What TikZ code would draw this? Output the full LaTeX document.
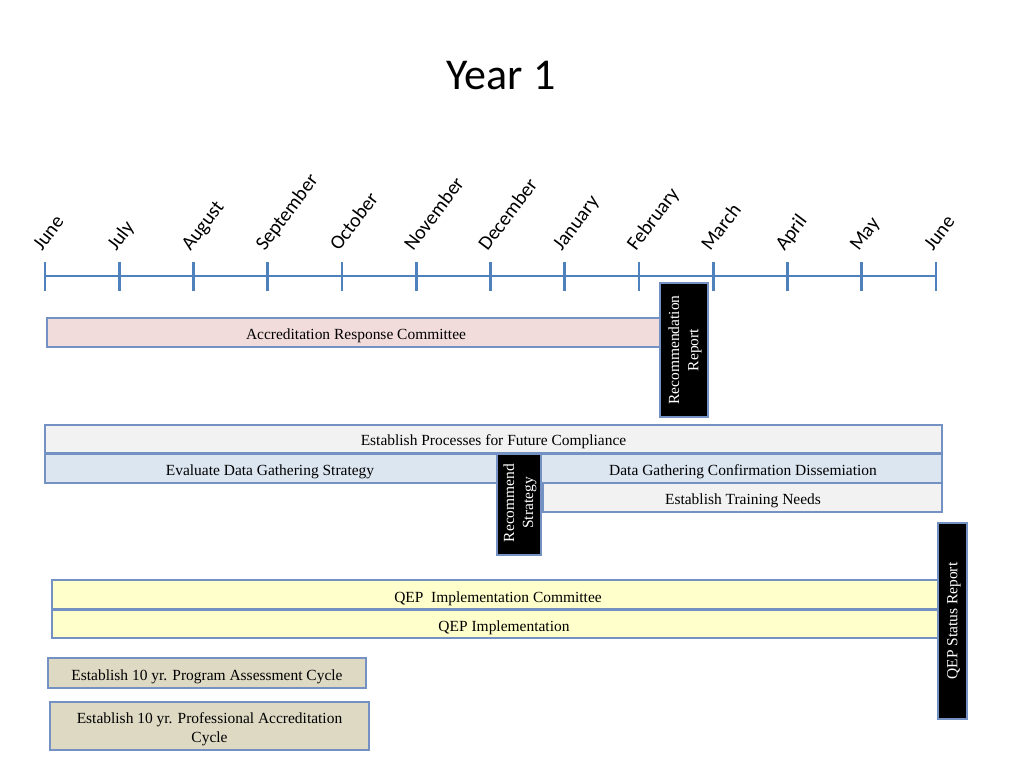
\documentclass[tikz,border=0pt]{standalone}
\usepackage{fontspec}
\setmainfont{Liberation Serif}
\newfontfamily\calibri{Carlito}
\definecolor{axisblue}{RGB}{79,129,189}
\definecolor{edgeblue}{RGB}{115,145,195}
\definecolor{pinkfill}{RGB}{242,220,219}
\definecolor{grayfill}{RGB}{242,242,242}
\definecolor{bluefill}{RGB}{220,230,241}
\definecolor{yellowfill}{RGB}{255,255,204}
\definecolor{tanfill}{RGB}{221,217,195}
\tikzset{
  lbl/.style={font=\fontsize{11.6}{14.3}\selectfont, align=center},
  bar/.style={draw=edgeblue, line width=0.8pt, inner sep=0pt, lbl},
  blackbox/.style={draw=edgeblue, line width=0.8pt, fill=black, inner sep=0pt},
  vlbl/.style={lbl, rotate=90, text=white},
  month/.style={font=\calibri\fontsize{15}{18}\selectfont, rotate=53, anchor=base west, inner sep=0pt},
  tick/.style={draw=axisblue, line width=2pt}
}
\begin{document}
\begin{tikzpicture}[x=0.75pt,y=-0.75pt]
\useasboundingbox (0,0) rectangle (1024,768);
\node[font=\calibri\fontsize{33}{40}\selectfont] (title) at (501,75) {Year 1};
% timeline
\draw[tick] (45,276) -- (936,276);
\foreach \i/\m in {0/June,1/July,2/August,3/September,4/October,5/November,6/December,7/January,8/February,9/March,10/April,11/May,12/June}{
  \pgfmathsetmacro{\xx}{45+\i*74.25}
  \draw[tick] (\xx,262) -- (\xx,291);
  \node[month] (m\i) at (\xx-3,252) {\m};
}
% bars
\node[bar, fill=pinkfill, minimum width=613*0.75pt, minimum height=29*0.75pt] (arc) at (353.5,332.5) {};
\node[lbl] (arclbl) at (356,336) {Accreditation Response Committee};
\node[blackbox, minimum width=48*0.75pt, minimum height=134*0.75pt] (rr) at (684,350) {};
\node[vlbl] (rrl) at (685,350) {Recommendation\\Report};

\node[bar, fill=grayfill, minimum width=897*0.75pt, minimum height=28*0.75pt] (epf) at (493.5,439) {};
\node[lbl] (epfl) at (493.5,442) {Establish Processes for Future Compliance};
\node[bar, fill=bluefill, minimum width=452*0.75pt, minimum height=29*0.75pt] (edg) at (271,468.5) {};
\node[lbl] (edgl) at (270,471.5) {Evaluate Data Gathering Strategy};
\node[bar, fill=bluefill, minimum width=401*0.75pt, minimum height=29*0.75pt] (dgc) at (741.5,468.5) {};
\node[lbl] (dgcl) at (743,471.5) {Data Gathering Confirmation Dissemiation};
\node[bar, fill=grayfill, minimum width=399*0.75pt, minimum height=29*0.75pt] (etn) at (742.5,497.5) {};
\node[lbl] (etnl) at (743,500.5) {Establish Training Needs};
\node[blackbox, minimum width=44*0.75pt, minimum height=101*0.75pt] (rs) at (519,504.5) {};
\node[vlbl] (rsl) at (520,503) {Recommend\\Strategy};

\node[blackbox, minimum width=29*0.75pt, minimum height=196*0.75pt] (qsr) at (952.5,621) {};
\node[vlbl] (qsrl) at (954,621) {QEP Status Report};

\node[bar, fill=yellowfill, minimum width=886*0.75pt, minimum height=29*0.75pt] (qic) at (495,594.5) {};
\node[lbl] (qicl) at (498,598.5) {QEP\ \ Implementation Committee};
\node[bar, fill=yellowfill, minimum width=886*0.75pt, minimum height=28*0.75pt] (qi) at (495,624) {};
\node[lbl] (qil) at (504,628) {QEP Implementation};

\node[bar, fill=tanfill, minimum width=318*0.75pt, minimum height=30*0.75pt] (pac) at (207,673) {};
\node[lbl] (pacl) at (207,677) {Establish 10 yr. Program Assessment Cycle};
\node[bar, fill=tanfill, minimum width=319*0.75pt, minimum height=48*0.75pt] (pra) at (209.5,726) {};
\node[lbl] (pral) at (209.5,729.5) {Establish 10 yr. Professional Accreditation\\Cycle};
\end{tikzpicture}
\end{document}
